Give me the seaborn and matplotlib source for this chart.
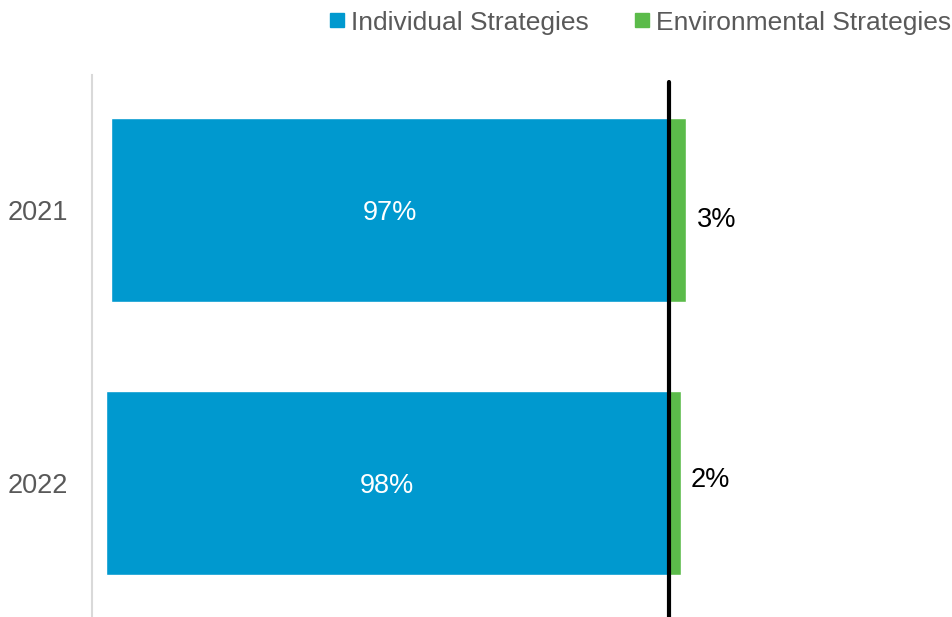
import matplotlib
matplotlib.use("Agg")
import matplotlib.pyplot as plt
from matplotlib.lines import Line2D
import seaborn as sns
import pandas as pd

# Share of strategies by year
years = ["2021", "2022"]
individual = [97, 98]
environmental = [3, 2]

blue = "#0099CF"
green = "#5BBB4A"
gray_text = "#595959"

sns.set_theme(style="white")
plt.rcParams["font.family"] = ["Liberation Sans", "DejaVu Sans"]

df = pd.DataFrame({"year": years,
                   "individual": [-v for v in individual],
                   "environmental": environmental})

fig = plt.figure(figsize=(9.53, 6.17), dpi=100)
ax = fig.add_axes([92 / 953, 0.0, 1 - 92 / 953, 1 - 75 / 617])

sns.barplot(data=df, y="year", x="individual", order=years, color=blue,
            width=0.672, saturation=1, ax=ax, orient="h")
sns.barplot(data=df, y="year", x="environmental", order=years, color=green,
            width=0.672, saturation=1, ax=ax, orient="h")

px_per_pct = 5.75
ax.set_xlim((92 - 669) / px_per_pct, (953 - 669) / px_per_pct)
ax.set_ylim(1.49, -0.495)

ax.axvline(0, ymin=0, ymax=0.987, color="black", lw=3, zorder=5)

# Value labels
green_offsets = [-7, 2]
for i, (ind, env) in enumerate(zip(individual, environmental)):
    ax.annotate(f"{ind}%", xy=(-ind / 2, i), xytext=(0, -2),
                textcoords="offset points", color="white", fontsize=19.5,
                ha="center", va="center")
    ax.annotate(f"{env}%", xy=(env, i), xytext=(7.5, green_offsets[i]),
                textcoords="offset points", color="black", fontsize=19.5,
                ha="left", va="center")

ax.set_xlabel("")
ax.set_ylabel("")
ax.set_xticks([])
ax.tick_params(axis="y", length=0, pad=17, labelsize=19.5, labelcolor=gray_text)
for side in ["top", "right", "bottom"]:
    ax.spines[side].set_visible(False)
ax.spines["left"].set_color("#D9D9D9")
ax.spines["left"].set_linewidth(1.5)

handles = [Line2D([], [], marker="s", linestyle="none", markersize=9.5,
                  markerfacecolor=c, markeredgecolor=c) for c in (blue, green)]
leg = fig.legend(handles, ["Individual Strategies", "Environmental Strategies"],
                 loc="upper right", bbox_to_anchor=(1.0045, 0.9935), borderaxespad=0,
                 borderpad=0.25, ncol=2, frameon=False, fontsize=19,
                 handletextpad=0.25, columnspacing=1.8, handlelength=0.5)
for t in leg.get_texts():
    t.set_color(gray_text)

fig.savefig("out.png", dpi=100)
